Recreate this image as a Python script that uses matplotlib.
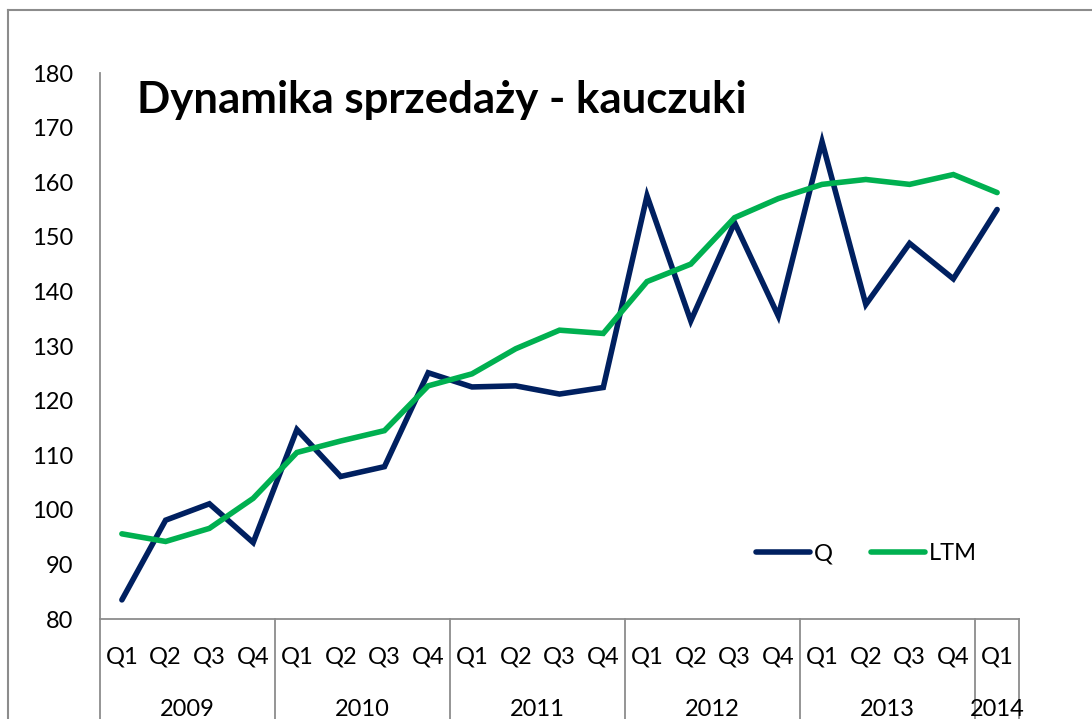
import matplotlib
matplotlib.use("Agg")
import matplotlib.pyplot as plt
from matplotlib.lines import Line2D
import matplotlib.transforms as mtransforms

plt.rcParams['font.family'] = ['Lato', 'DejaVu Sans']

years = ["2009", "2010", "2011", "2012", "2013", "2014"]
quarters = ["Q1", "Q2", "Q3", "Q4"] * 5 + ["Q1"]
q_values = [83.5, 98.1, 101.1, 94.0,
            114.7, 106.1, 107.9, 125.1,
            122.5, 122.7, 121.2, 122.4,
            157.5, 134.6, 152.6, 135.5,
            167.4, 137.6, 148.8, 142.3,
            155.0]
ltm_values = [95.6, 94.2, 96.6, 102.1,
              110.5, 112.6, 114.5, 122.7,
              124.9, 129.5, 132.9, 132.3,
              141.8, 145.0, 153.5, 157.0,
              159.6, 160.5, 159.6, 161.4,
              158.1]
year_counts = [4, 4, 4, 4, 4, 1]

W, H = 1092, 719
fig = plt.figure(figsize=(W / 100, H / 100), dpi=100)
ax = fig.add_axes([100 / W, 100 / H, (1019 - 100) / W, (619 - 73) / H])

x = list(range(len(q_values)))
navy = "#002060"
green = "#00B050"
ax.plot(x, q_values, color=navy, lw=4.0, solid_capstyle='round', solid_joinstyle='miter', label="Q")
ax.plot(x, ltm_values, color=green, lw=4.0, solid_capstyle='round', solid_joinstyle='miter', label="LTM")

ax.set_xlim(-0.5, len(x) - 0.5)
ax.set_ylim(80, 180)
ax.set_yticks(range(80, 181, 10))
ax.set_xticks([])
ax.tick_params(axis='y', length=0, pad=19.5, labelsize=17)
for s in ['top', 'right']:
    ax.spines[s].set_visible(False)
grey = "#8c8c8c"
ax.spines['left'].set_color(grey)
ax.spines['bottom'].set_color(grey)
ax.spines['left'].set_linewidth(1.3)
ax.spines['bottom'].set_linewidth(1.3)

trans = mtransforms.blended_transform_factory(ax.transData, ax.transAxes)
axh = 619 - 73
# category labels
for i, q in enumerate(quarters):
    ax.text(i, -(657 - 619) / axh, q, transform=trans, ha='center', va='center', fontsize=17)
# year labels and separators
start = 0
bounds = [-0.5]
for y, n in zip(years, year_counts):
    center = start + (n - 1) / 2
    ax.text(center, -(709 - 619) / axh, y, transform=trans, ha='center', va='center', fontsize=17)
    start += n
    bounds.append(start - 0.5)
for b in bounds:
    ax.add_line(Line2D([b, b], [0, -(720 - 619) / axh], transform=trans, color=grey,
                       lw=1.3, clip_on=False))

# title
fig.text(137 / W, 1 - 100 / H, "Dynamika sprzedaży - kauczuki", fontsize=31.5,
         fontweight='bold', ha='left', va='center')

# legend
ax.legend(loc='center left', bbox_to_anchor=((756 - 100) / (1019 - 100), (619 - 554) / axh),
          ncol=2, frameon=False, fontsize=17, handlelength=2.3, handletextpad=0.15,
          columnspacing=1.6, borderpad=0, borderaxespad=0)

# outer chart border (cropped)
fig.add_artist(Line2D([8 / W, 1.0], [1 - 10 / H, 1 - 10 / H], transform=fig.transFigure,
                      color=grey, lw=1.5))
fig.add_artist(Line2D([8 / W, 8 / W], [0, 1 - 10 / H], transform=fig.transFigure,
                      color=grey, lw=1.5))

fig.savefig("out.png", dpi=100, facecolor='white')
